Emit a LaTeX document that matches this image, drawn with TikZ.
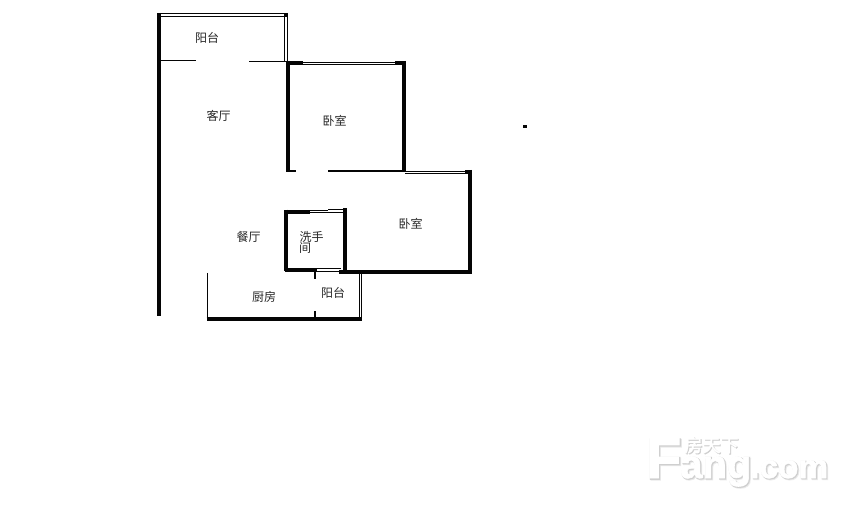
\documentclass[tikz,border=0pt]{standalone}
\usepackage{fontspec}
\setmainfont{Liberation Sans}
\newfontfamily\cjk{Noto Sans CJK SC}
\newfontfamily\cjkw{Noto Sans CJK SC}[FakeBold=1.5]
\newfontfamily\cjks{Noto Sans CJK SC}[FakeBold=3]
\newfontfamily\wm{Liberation Sans}[FakeBold=1.5]
\newfontfamily\wmb{Liberation Sans}[FakeBold=3.5]
\definecolor{wall}{HTML}{050505}
\definecolor{wmshade}{HTML}{CFCFCF}
\definecolor{wmedge}{HTML}{EBEBEB}
\tikzset{
  thick wall/.style={draw=wall,line width=2.9pt,line cap=butt},
  mid wall/.style={draw=wall,line width=1.8pt},
  thin wall/.style={draw=wall,line width=0.75pt},
  fine wall/.style={draw=wall,line width=0.7pt},
  room/.style={inner sep=0pt,font=\cjk\fontsize{9}{10}\selectfont,text=black!85},
  wmtext/.style={inner sep=0pt,anchor=base west},
}
% one node holding the shadow layers and the white face of a watermark word
\newcommand{\wmark}[5]{%
  \node[wmtext] (#5) at (#1,#2) {\fontsize{#3}{#3}\selectfont\bfseries
    \rlap{\kern1.2pt\raisebox{-1.2pt}{\wmb\textcolor{wmedge}{#4}}}%
    \rlap{\kern0.6pt\raisebox{-0.6pt}{\wmb\textcolor{wmshade}{#4}}}%
    {\wm\bfseries\textcolor{white}{#4}}};
}
\begin{document}
\begin{tikzpicture}[x=0.75pt,y=-0.75pt]
\useasboundingbox (0,0) rectangle (845,505);
\fill[white] (0,0) rectangle (845,505);
% left outer wall
\draw[thick wall] (159,13) -- (159,316.5);
% upper balcony
\draw[fine wall] (159,13.5) -- (287,13.5);
\draw[fine wall] (159,16.5) -- (287,16.5);
\draw[fine wall] (284.7,15) -- (284.7,61);
\draw[fine wall] (287.4,13) -- (287.4,61);
\fill[wall] (283.5,13) rectangle (288,17);
\draw[thin wall] (161,60.3) -- (196,60.3);
\draw[thin wall] (249,61.3) -- (287,61.3);
% bedroom 1
\draw[fine wall] (287,62) -- (405,62);
\draw[fine wall] (287,64.3) -- (405,64.3);
\fill[wall] (286,61) rectangle (303,64.8);
\fill[wall] (395,61) rectangle (406,64.8);
\draw[thick wall] (288.3,61) -- (288.3,172.5);
\draw[thick wall] (404,61) -- (404,172.5);
\draw[mid wall] (286.5,171.3) -- (296,171.3);
\draw[mid wall] (328,171.3) -- (406,171.3);
% bedroom 2
\draw[fine wall] (405,171) -- (466,171);
\draw[fine wall] (405,173.3) -- (466,173.3);
\fill[wall] (464.5,170) rectangle (472,174);
\draw[thick wall] (469.8,170) -- (469.8,273.5);
\draw[thick wall] (339,271.6) -- (471.5,271.6);
% washroom
\draw[thick wall] (286.2,209.7) -- (286.2,271.5);
\draw[thick wall] (284.5,211.8) -- (310,211.8);
\draw[fine wall] (310,212.5) -- (344,212.5);
\draw[fine wall] (328,209.8) -- (344,209.8);
\draw[fine wall] (310,210.8) -- (328,210.8);
\draw[thick wall] (345,208.5) -- (345,272);
\draw[thick wall] (284.5,269.8) -- (317,269.8);
\draw[fine wall] (317,268.8) -- (341,268.8);
\draw[fine wall] (317,271) -- (341,271);
% stubs between kitchen and balcony
\draw[mid wall] (315,270) -- (315,279.5);
\draw[mid wall] (315,311.5) -- (315,319);
% kitchen and lower balcony
\draw[thin wall] (207.6,273) -- (207.6,318);
\draw[thick wall] (206.5,319) -- (361.8,319);
\draw[fine wall] (359.3,272) -- (359.3,319);
\draw[fine wall] (361.4,272) -- (361.4,319);
% stray dot
\fill[wall] (523,125) rectangle (526.5,128.5);
% room labels
\node[room] (balconyA) at (207,37.5) {阳台};
\node[room] (living) at (218.5,115.5) {客厅};
\node[room] (bedA) at (334.5,120.5) {卧室};
\node[room] (dining) at (248.5,236.5) {餐厅};
\node[room] (wash) at (311.5,236.5) {洗手};
\node[room] (washB) at (305,248) {间};
\node[room] (bedB) at (410.5,223.5) {卧室};
\node[room] (kitchen) at (264,296.5) {厨房};
\node[room] (balconyB) at (333,292.5) {阳台};
% watermark
\wmark{646}{478}{43}{F}{wmF}
\wmark{680}{478}{30}{ang}{wmA}
\wmark{750}{478}{25}{.com}{wmC}
\node[inner sep=0pt] (wmT) at (711.5,445.5) {\fontsize{13.5}{14}\selectfont
  \rlap{\kern0.7pt\raisebox{-0.7pt}{\cjks\textcolor{wmshade}{房天下}}}%
  {\cjkw\textcolor{white}{房天下}}};
\end{tikzpicture}
\end{document}
